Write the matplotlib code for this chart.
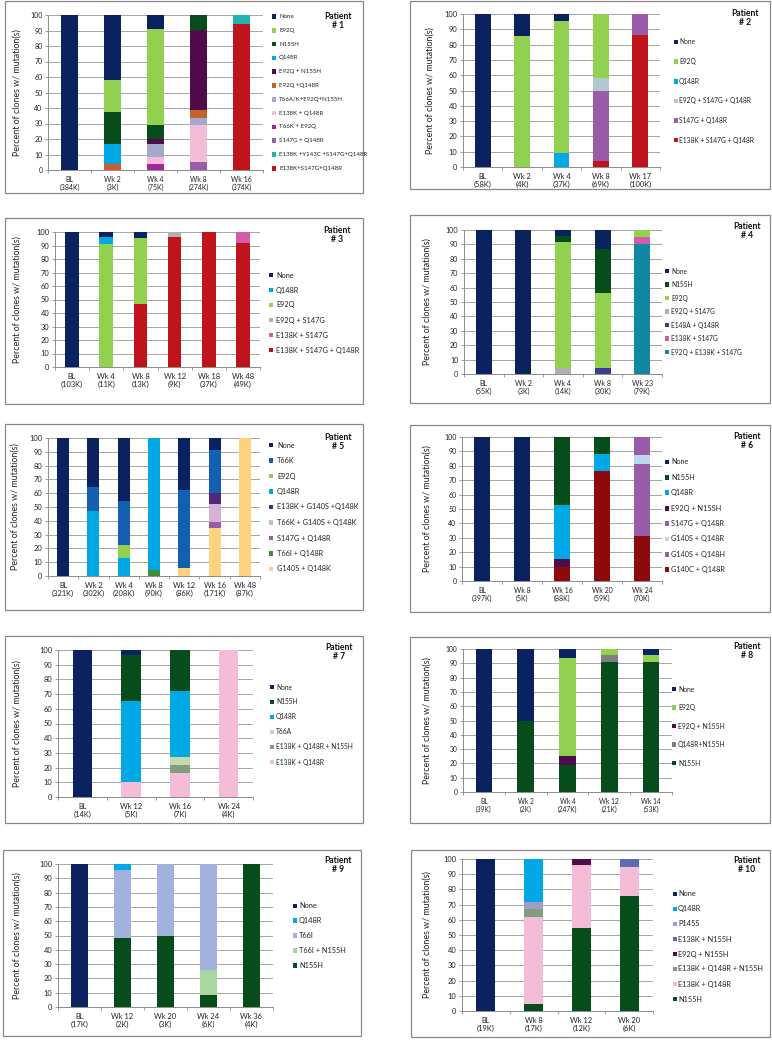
import matplotlib
matplotlib.use('Agg')
import matplotlib.pyplot as plt
from matplotlib.patches import Rectangle

plt.rcParams['font.family'] = ['Lato', 'DejaVu Sans']

W, H = 772, 1041

# ------------------------------------------------------------------ data
p1_times = ['BL', 'Wk 2', 'Wk 4', 'Wk 8', 'Wk 16']
p1_counts = ['384K', '3K', '75K', '274K', '374K']
p1_series = ['None', 'E92Q', 'N155H', 'Q148R', 'E92Q + N155H', 'E92Q +Q148R',
             'T66A/K+E92Q+N155H', 'E138K + Q148R', 'T66K + E92Q', 'S147G + Q148R',
             'E138K +Y143C +S147G+Q148R', 'E138K+S147G+Q148R']
p1_values = [[100, 42, 9, 0, 0],
             [0, 20.5, 62, 0, 0],
             [0, 21, 9, 9.5, 0],
             [0, 12.5, 0, 0, 0],
             [0, 0, 3.5, 52, 0],
             [0, 4, 0, 5, 0],
             [0, 0, 8, 4.5, 0],
             [0, 0, 4.5, 24, 0],
             [0, 0, 4, 0, 0],
             [0, 0, 0, 5, 0],
             [0, 0, 0, 0, 5.5],
             [0, 0, 0, 0, 94.5]]

p2_times = ['BL', 'Wk 2', 'Wk 4', 'Wk 8', 'Wk 17']
p2_counts = ['58K', '4K', '37K', '69K', '100K']
p2_series = ['None', 'E92Q', 'Q148R', 'E92Q + S147G + Q148R', 'S147G + Q148R',
             'E138K + S147G + Q148R']
p2_values = [[100, 14.5, 4.5, 0, 0],
             [0, 85.5, 86.5, 42, 0],
             [0, 0, 9, 0, 0],
             [0, 0, 0, 8, 0],
             [0, 0, 0, 46, 13.5],
             [0, 0, 0, 4, 86.5]]

p3_times = ['BL', 'Wk 4', 'Wk 8', 'Wk 12', 'Wk 18', 'Wk 48']
p3_counts = ['103K', '11K', '13K', '9K', '37K', '49K']
p3_series = ['None', 'Q148R', 'E92Q', 'E92Q + S147G', 'E138K + S147G',
             'E138K + S147G + Q148R']
p3_values = [[100, 4, 4.5, 0, 0, 0],
             [0, 5, 0, 0, 0, 0],
             [0, 91, 49, 0, 0, 0],
             [0, 0, 0, 4, 0, 0],
             [0, 0, 0, 0, 0, 8],
             [0, 0, 46.5, 96, 100, 92]]

p4_times = ['BL', 'Wk 2', 'Wk 4', 'Wk 8', 'Wk 23']
p4_counts = ['55K', '3K', '14K', '30K', '79K']
p4_series = ['None', 'N155H', 'E92Q', 'E92Q + S147G', 'E148A + Q148R',
             'E138K + S147G', 'E92Q + E138K + S147G']
p4_values = [[100, 100, 4, 13, 0],
             [0, 0, 4.5, 30.5, 0],
             [0, 0, 87.5, 52, 5],
             [0, 0, 4, 0, 0],
             [0, 0, 0, 4.5, 0],
             [0, 0, 0, 0, 4.5],
             [0, 0, 0, 0, 90.5]]

p5_times = ['BL', 'Wk 2', 'Wk 4', 'Wk 8', 'Wk 12', 'Wk 16', 'Wk 48']
p5_counts = ['321K', '302K', '208K', '90K', '86K', '171K', '87K']
p5_series = ['None', 'T66K', 'E92Q', 'Q148R', 'E138K + G140S +Q148K',
             'T66K + G140S + Q148K', 'S147G + Q148R', 'T66I + Q148R', 'G140S + Q148K']
p5_values = [[100, 35.5, 46, 0, 38, 8.5, 0],
             [0, 17.5, 31.5, 0, 56, 31, 0],
             [0, 0, 9.5, 0, 0, 0, 0],
             [0, 47, 13, 96, 0, 0, 0],
             [0, 0, 0, 0, 0, 8, 0],
             [0, 0, 0, 0, 0, 13.5, 0],
             [0, 0, 0, 0, 0, 4, 0],
             [0, 0, 0, 4, 0, 0, 0],
             [0, 0, 0, 0, 6, 35, 100]]

p6_times = ['BL', 'Wk 8', 'Wk 16', 'Wk 20', 'Wk 24']
p6_counts = ['397K', '5K', '88K', '59K', '70K']
p6_series = ['None', 'N155H', 'Q148R', 'E92Q + N155H', 'S147G + Q148R',
             'G140S + Q148R', 'G140S + Q148H', 'G140C + Q148R']
p6_values = [[100, 100, 0, 0, 0],
             [0, 0, 47, 12, 0],
             [0, 0, 37.5, 11.5, 0],
             [0, 0, 5.5, 0, 0],
             [0, 0, 0, 0, 12.5],
             [0, 0, 0, 0, 6.5],
             [0, 0, 0, 0, 50],
             [0, 0, 10, 76.5, 31]]

p7_times = ['BL', 'Wk 12', 'Wk 16', 'Wk 24']
p7_counts = ['14K', '5K', '7K', '4K']
p7_series = ['None', 'N155H', 'Q148R', 'T66A', 'E138K + Q148R + N155H',
             'E138K + Q148R']
p7_values = [[100, 3.5, 0, 0],
             [0, 31, 28, 0],
             [0, 55.5, 44.5, 0],
             [0, 0, 5.5, 0],
             [0, 0, 5.5, 0],
             [0, 10, 16.5, 100]]

p8_times = ['BL', 'Wk 2', 'Wk 4', 'Wk 12', 'Wk 14']
p8_counts = ['39K', '2K', '247K', '21K', '53K']
p8_series = ['None', 'E92Q', 'E92Q + N155H', 'Q148R+N155H', 'N155H']
p8_values = [[100, 50, 6.5, 0, 4.5],
             [0, 0, 68.5, 4.5, 4.5],
             [0, 0, 6, 0, 0],
             [0, 0, 0, 4.5, 0],
             [0, 50, 19, 91, 91]]

p9_times = ['BL', 'Wk 12', 'Wk 20', 'Wk 24', 'Wk 36']
p9_counts = ['17K', '2K', '3K', '6K', '4K']
p9_series = ['None', 'Q148R', 'T66I', 'T66I + N155H', 'N155H']
p9_values = [[100, 0, 0, 0, 0],
             [0, 4, 0, 0, 0],
             [0, 48, 50, 74, 0],
             [0, 0, 0, 17.5, 0],
             [0, 48, 50, 8.5, 100]]

p10_times = ['BL', 'Wk 8', 'Wk 12', 'Wk 20']
p10_counts = ['19K', '17K', '12K', '6K']
p10_series = ['None', 'Q148R', 'P145S', 'E138K + N155H', 'E92Q + N155H',
              'E138K + Q148R + N155H', 'E138K + Q148R', 'N155H']
p10_values = [[100, 0, 0, 0],
              [0, 28.5, 0, 0],
              [0, 4.5, 0, 0],
              [0, 0, 0, 5],
              [0, 0, 4, 0],
              [0, 5, 0, 0],
              [0, 57.5, 41.5, 19.5],
              [0, 4.5, 54.5, 75.5]]

# ------------------------------------------------------------------ styles
colors = {
    'None': '#0B2260',
    'E92Q': '#92D050',
    'N155H': '#064D1B',
    'Q148R': '#00A8E6',
    'E92Q+N155H': '#500C4A',
    'E92Q+Q148R': '#C8602C',
    'T66A/K+E92Q+N155H': '#A4A8CC',
    'E138K+Q148R': '#F4BCD6',
    'T66K+E92Q': '#9E2A9A',
    'S147G+Q148R': '#9A5CA8',
    'E138K+Y143C+S147G+Q148R': '#22B2B0',
    'E138K+S147G+Q148R': '#C0141C',
    'E92Q+S147G+Q148R': '#B2C8D0',
    'E92Q+S147G': '#B0B0B4',
    'E138K+S147G': '#D45BA8',
    'E148A+Q148R': '#3A3D92',
    'E92Q+E138K+S147G': '#1088A4',
    'T66K': '#1460B0',
    'E138K+G140S+Q148K': '#4E2A78',
    'T66K+G140S+Q148K': '#D6B2D6',
    'T66I+Q148R': '#3C8C3C',
    'G140S+Q148K': '#FFD27F',
    'G140S+Q148R': '#BCD8EE',
    'G140S+Q148H': '#9A5CA8',
    'G140C+Q148R': '#8C0A0A',
    'T66A': '#C8D8AC',
    'E138K+Q148R+N155H': '#7E9E80',
    'Q148R+N155H': '#808080',
    'T66I': '#A2B2DE',
    'T66I+N155H': '#A8D8A0',
    'P145S': '#A39BC9',
    'E138K+N155H': '#5B6BB5',
}

panels = [
    dict(n=1, times=p1_times, counts=p1_counts, series=p1_series, values=p1_values,
         box=(5, 1, 363, 193), ax=(48, 15, 263, 170), ylx=17,
         lmx=274, ltx=279, ly0=16.5, ldy=13.8, lfs=4.4, pat=(338, 12), tfs=5.0),
    dict(n=2, times=p2_times, counts=p2_counts, series=p2_series, values=p2_values,
         box=(410, 1, 770, 189), ax=(463, 14, 660, 167), ylx=430,
         lmx=676, ltx=679, ly0=42, ldy=19.6, lfs=4.8, pat=(745, 9), tfs=5.4),
    dict(n=3, times=p3_times, counts=p3_counts, series=p3_series, values=p3_values,
         box=(5, 218, 363, 404), ax=(55, 232, 260, 367), ylx=17,
         lmx=271, ltx=276, ly0=275, ldy=15, lfs=5.3, pat=(337, 226), tfs=5.4),
    dict(n=4, times=p4_times, counts=p4_counts, series=p4_series, values=p4_values,
         box=(410, 215, 770, 403), ax=(464, 230, 662, 374), ylx=427,
         lmx=667, ltx=671, ly0=271, ldy=13.5, lfs=4.8, pat=(747, 222), tfs=5.1),
    dict(n=5, times=p5_times, counts=p5_counts, series=p5_series, values=p5_values,
         box=(5, 424, 363, 610), ax=(48, 438, 260, 576), ylx=15,
         lmx=271, ltx=277, ly0=445, ldy=15.5, lfs=5.3, pat=(338, 433), tfs=5.4),
    dict(n=6, times=p6_times, counts=p6_counts, series=p6_series, values=p6_values,
         box=(410, 425, 770, 612), ax=(462, 437, 662, 581), ylx=427,
         lmx=667, ltx=671, ly0=462, ldy=15.4, lfs=5.2, pat=(747, 432), tfs=5.0),
    dict(n=7, times=p7_times, counts=p7_counts, series=p7_series, values=p7_values,
         box=(5, 636, 363, 823), ax=(58, 650, 253, 797), ylx=17,
         lmx=272, ltx=276, ly0=687, ldy=15, lfs=4.8, pat=(339, 643), tfs=5.4),
    dict(n=8, times=p8_times, counts=p8_counts, series=p8_series, values=p8_values,
         box=(410, 637, 770, 823), ax=(463, 649, 672, 792), ylx=427,
         lmx=674, ltx=678, ly0=689, ldy=18.5, lfs=4.9, pat=(747, 642), tfs=4.8),
    dict(n=9, times=p9_times, counts=p9_counts, series=p9_series, values=p9_values,
         box=(3, 850, 361, 1036), ax=(58, 864, 273, 1007), ylx=17,
         lmx=295, ltx=299, ly0=906, ldy=14.8, lfs=5.3, pat=(338, 856), tfs=5.4),
    dict(n=10, times=p10_times, counts=p10_counts, series=p10_series, values=p10_values,
         box=(411, 850, 770, 1037), ax=(462, 859, 653, 1011), ylx=427,
         lmx=675, ltx=678, ly0=894, ldy=15, lfs=5.3, pat=(747, 856), tfs=5.4),
]

fig = plt.figure(figsize=(W / 100, H / 100), dpi=100)
fig.patch.set_facecolor('white')


def fx(x):
    return x / W


def fy(y):
    return 1 - y / H


GRID = '#A6A6A6'
AXC = '#8C8C8C'

for p in panels:
    l, t, r, b = p['box']
    fig.add_artist(Rectangle((fx(l), fy(b)), fx(r) - fx(l), fy(t) - fy(b),
                             transform=fig.transFigure, fill=False,
                             edgecolor='#8A8A8A', lw=0.9))
    al, at, ar, ab = p['ax']
    ax = fig.add_axes([fx(al), fy(ab), fx(ar) - fx(al), fy(at) - fy(ab)])
    n = len(p['times'])
    x = list(range(n))
    bottom = [0.0] * n
    for name, vals in reversed(list(zip(p['series'], p['values']))):
        c = colors[name.replace(' ', '')]
        ax.bar(x, vals, width=0.4, bottom=bottom, color=c, edgecolor='none',
               zorder=3)
        bottom = [bb + v for bb, v in zip(bottom, vals)]
    ax.set_xlim(-0.5, n - 0.5)
    ax.set_ylim(0, 100)
    ax.set_yticks(range(0, 101, 10))
    ax.yaxis.grid(True, color=GRID, lw=0.7, zorder=0)
    ax.set_axisbelow(True)
    for s in ('top', 'right'):
        ax.spines[s].set_visible(False)
    for s in ('left', 'bottom'):
        ax.spines[s].set_color(AXC)
        ax.spines[s].set_linewidth(0.7)
    ax.tick_params(axis='y', labelsize=p['tfs'], length=2, width=0.6,
                   color=AXC, pad=2, labelcolor='#222222')
    ax.set_xticks(x)
    ax.set_xticklabels([f"{tm}\n({cn})" for tm, cn in zip(p['times'], p['counts'])],
                       fontsize=p['tfs'], color='#222222', linespacing=1.25)
    ax.tick_params(axis='x', which='major', length=0, pad=4)
    ax.set_xticks([i - 0.5 for i in range(n + 1)], minor=True)
    ax.tick_params(axis='x', which='minor', length=2.5, width=0.6, color=AXC)
    fig.text(fx(p['ylx']), fy((at + ab) / 2), 'Percent of clones w/ mutation(s)',
             rotation=90, ha='center', va='center', fontsize=6.4, color='#222222')
    # legend
    for i, name in enumerate(p['series']):
        yy = p['ly0'] + i * p['ldy']
        c = colors[name.replace(' ', '')]
        fig.add_artist(Rectangle((fx(p['lmx'] - 2.3), fy(yy + 2.3)), 4.6 / W, 4.6 / H,
                                 transform=fig.transFigure, facecolor=c,
                                 edgecolor='none'))
        fig.text(fx(p['ltx']), fy(yy), name, ha='left', va='center',
                 fontsize=p['lfs'], color='#222222')
    px, py = p['pat']
    fig.text(fx(px), fy(py), f"Patient\n# {p['n']}", ha='center', va='top',
             fontsize=6.2, fontweight='bold', linespacing=0.95, color='#111111')

fig.savefig('out.png', dpi=100, facecolor='white')
